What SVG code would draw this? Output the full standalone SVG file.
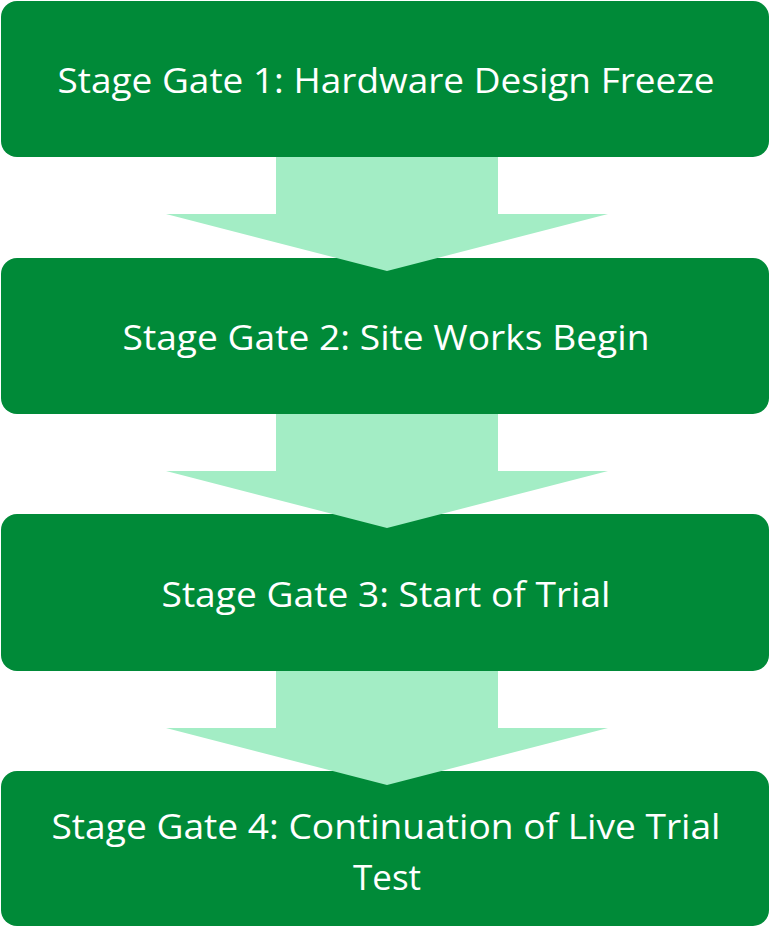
<svg xmlns="http://www.w3.org/2000/svg" width="770" height="926" viewBox="0 0 770 926">
<style>
.box{fill:#008A38}
.arr{fill:#A3EDC5}
.lbl{fill:#FFFFFF;font-family:"Open Sans","Liberation Sans",sans-serif;font-size:35px;text-anchor:middle}
</style>
<rect width="770" height="926" fill="#FFFFFF"/>
<g id="node1"><rect class="box" x="1" y="1" width="768" height="156" rx="16"/>
<text class="lbl" x="386" y="93" textLength="657" lengthAdjust="spacingAndGlyphs">Stage Gate 1: Hardware Design Freeze</text></g>
<g id="node2"><rect class="box" x="1" y="258" width="768" height="156" rx="16"/>
<text class="lbl" x="386" y="350" textLength="527" lengthAdjust="spacingAndGlyphs">Stage Gate 2: Site Works Begin</text></g>
<g id="node3"><rect class="box" x="1" y="514" width="768" height="157" rx="16"/>
<text class="lbl" x="386" y="607" textLength="449" lengthAdjust="spacingAndGlyphs">Stage Gate 3: Start of Trial</text></g>
<g id="node4"><rect class="box" x="1" y="771" width="768" height="155" rx="16"/>
<text class="lbl" x="386" y="839" textLength="669" lengthAdjust="spacingAndGlyphs">Stage Gate 4: Continuation of Live Trial</text>
<text class="lbl" x="387" y="890">Test</text></g>
<g id="connectors">
<polygon class="arr" points="276,157 498,157 498,214 608,214 387,271 166,214 276,214"/>
<polygon class="arr" points="276,414 498,414 498,471 608,471 387,528 166,471 276,471"/>
<polygon class="arr" points="276,671 498,671 498,728 608,728 387,785 166,728 276,728"/>
</g>
</svg>
